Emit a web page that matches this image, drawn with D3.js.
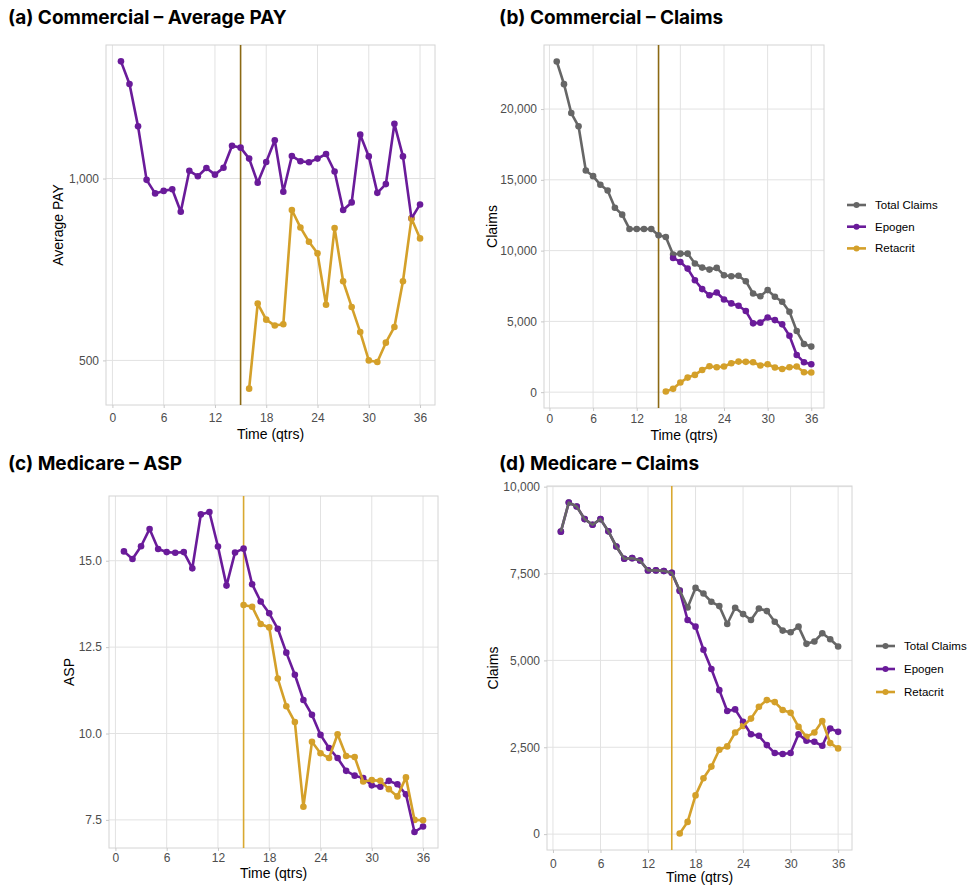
<!DOCTYPE html>
<html>
<head>
<meta charset="utf-8">
<script src="https://cdn.jsdelivr.net/npm/d3@7"></script>
<style>
body { margin: 0; background: #fff; }
text { font-family: "Liberation Sans", Arial, sans-serif; }
.title { font-family: Inter, "Open Sans", sans-serif; font-weight: 700; font-size: 19px; fill: #000; }
.axis text { fill: #4d4d4d; font-size: 12px; }
.axis line { stroke: #c8c8c8; }
.axis path { display: none; }
.axisTitle { font-size: 14px; fill: #000; }
.legend text { font-size: 11.5px; fill: #000; }
</style>
</head>
<body>
<svg id="chart" width="970" height="886"></svg>
<script>
var quarters = [1, 2, 3, 4, 5, 6, 7, 8, 9, 10, 11, 12, 13, 14, 15, 16, 17, 18,
                19, 20, 21, 22, 23, 24, 25, 26, 27, 28, 29, 30, 31, 32, 33, 34, 35, 36];
var xTicks = [0, 6, 12, 18, 24, 30, 36];
var seriesNames = ["Total Claims", "Epogen", "Retacrit"];
var launchQuarter = 15;

// (a) commercial average pay
var commPayEpogen = [1563, 1434, 1220, 995, 945, 954, 960, 881, 1030, 1009, 1041, 1015,
                     1042, 1133, 1125, 1079, 984, 1065, 1157, 951, 1090, 1068, 1064, 1079,
                     1098, 1027, 887, 913, 1182, 1088, 947, 979, 1232, 1088, 859, 906];
var commPayRetacrit = [null, null, null, null, null, null, null, null, null, null, null, null,
                       null, null, null, 449, 621, 584, 571, 574, 887, 830, 786, 752,
                       618, 828, 676, 613, 557, 500, 497, 535, 568, 676, 859, 796];
var commPayTicks = [500, 1000];

// (b) commercial claims
var commClaimsTotal = [23360, 21760, 19720, 18780, 15660, 15260, 14650, 14250, 13030, 12540, 11530, 11530,
                       11530, 11530, 11080, 10960, 9720, 9790, 9790, 9090, 8800, 8660, 8780, 8260,
                       8190, 8220, 7840, 6970, 6780, 7210, 6740, 6390, 5680, 4320, 3400, 3220];
var commClaimsEpogen = [null, null, null, null, null, null, null, null, null, null, null, null,
                        null, null, null, null, 9480, 9200, 8730, 7910, 7280, 6850, 7040, 6550,
                        6270, 6100, 5730, 4860, 4910, 5280, 5090, 4790, 3990, 2630, 2110, 1970];
var commClaimsRetacrit = [null, null, null, null, null, null, null, null, null, null, null, null,
                          null, null, null, 47, 235, 680, 1030, 1220, 1570, 1830, 1760, 1810,
                          2040, 2160, 2140, 2110, 1880, 1970, 1740, 1640, 1760, 1810, 1410, 1390];
var commClaimsTicks = [0, 5000, 10000, 15000, 20000];

// (c) medicare ASP
var medAspEpogen = [15.27, 15.05, 15.42, 15.92, 15.34, 15.25, 15.23, 15.25, 14.78, 16.34, 16.41, 15.41,
                    14.28, 15.24, 15.35, 14.32, 13.82, 13.48, 13.03, 12.34, 11.70, 10.97, 10.54, 9.96,
                    9.58, 9.29, 8.92, 8.78, 8.71, 8.50, 8.46, 8.63, 8.53, 8.24, 7.15, 7.31];
var medAspRetacrit = [null, null, null, null, null, null, null, null, null, null, null, null,
                      null, null, 13.72, 13.67, 13.17, 13.07, 11.59, 10.79, 10.33, 7.88, 9.76, 9.43,
                      9.29, 9.98, 9.35, 9.32, 8.61, 8.65, 8.63, 8.39, 8.18, 8.73, 7.50, 7.49];
var medAspTicks = [7.5, 10, 12.5, 15];

// (d) medicare claims
var medClaimsTotal = [8705, 9543, 9429, 9067, 8905, 9067, 8714, 8276, 7924, 7943, 7876, 7590,
                      7590, 7571, 7524, 7019, 6524, 7086, 6924, 6686, 6562, 6048, 6514, 6333,
                      6162, 6495, 6419, 6114, 5857, 5810, 5971, 5476, 5543, 5781, 5610, 5400];
var medClaimsEpogen = [8705, 9543, 9429, 9067, 8905, 9067, 8714, 8276, 7924, 7943, 7876, 7590,
                       7590, 7571, 7524, 7000, 6162, 5971, 5305, 4752, 4143, 3543, 3590, 3229,
                       2876, 2829, 2562, 2333, 2305, 2333, 2876, 2686, 2657, 2543, 3038, 2943];
var medClaimsRetacrit = [null, null, null, null, null, null, null, null, null, null, null, null,
                         null, null, null, 19, 352, 1114, 1610, 1943, 2429, 2524, 2924, 3114,
                         3324, 3667, 3857, 3800, 3571, 3495, 3086, 2800, 2924, 3257, 2619, 2467];
var medClaimsTicks = [0, 2500, 5000, 7500, 10000];

var color = d3.scaleOrdinal()
    .domain(seriesNames)
    .range(["#666666", "#6a1b9a", "#d4a02a"]);

var svg = d3.select("#chart");

drawPanel({
    title: "(a) Commercial \u2013 Average PAY", titleX: 8, titleY: 24,
    left: 106, right: 435, top: 45, bottom: 405,
    yTitle: "Average PAY", yTitleX: 58, log: true,
    yTicks: commPayTicks, fmt: d3.format(","), xPad: 5.5, xTitleOff: 34,
    vline: "#8b6914",
    series: [{ name: "Epogen", values: commPayEpogen }, { name: "Retacrit", values: commPayRetacrit }]
});

drawPanel({
    title: "(b) Commercial \u2013 Claims", titleX: 499, titleY: 24,
    left: 544, right: 824, top: 45, bottom: 408,
    yTitle: "Claims", yTitleX: 492,
    yTicks: commClaimsTicks, fmt: d3.format(","), xPad: 3.4, xTitleOff: 32,
    vline: "#8b6914",
    series: [{ name: "Total Claims", values: commClaimsTotal }, { name: "Epogen", values: commClaimsEpogen },
             { name: "Retacrit", values: commClaimsRetacrit }],
    legend: { x: 847, y: 205, step: 21.7 }
});

drawPanel({
    title: "(c) Medicare \u2013 ASP", titleX: 8, titleY: 470,
    left: 109, right: 438, top: 496, bottom: 848,
    yTitle: "ASP", yTitleX: 69,
    yTicks: medAspTicks, fmt: d3.format(".1f"), xPad: 2.8, xTitleOff: 30,
    vline: "#d9a830",
    series: [{ name: "Epogen", values: medAspEpogen }, { name: "Retacrit", values: medAspRetacrit }]
});

drawPanel({
    title: "(d) Medicare \u2013 Claims", titleX: 499, titleY: 470,
    left: 547, right: 852, top: 486, bottom: 850,
    yTitle: "Claims", yTitleX: 492.5,
    yTicks: medClaimsTicks, fmt: d3.format(","), xPad: 6.1, xTitleOff: 32,
    vline: "#d9a830",
    series: [{ name: "Total Claims", values: medClaimsTotal }, { name: "Epogen", values: medClaimsEpogen },
             { name: "Retacrit", values: medClaimsRetacrit }],
    legend: { x: 876, y: 646, step: 23 }
});

function drawPanel(p)
{
    var x = d3.scaleLinear().domain([-0.75, 37.75]).range([p.left, p.right]);

    var all = [];
    p.series.forEach(function(s) {
        s.values.forEach(function(v) { if (v != null) all.push(v); });
    });
    var lo = d3.min(all), hi = d3.max(all), pad, y;
    if (p.log) {
        var a = Math.log10(lo), b = Math.log10(hi);
        pad = (b - a) * 0.05;
        y = d3.scaleLog().domain([Math.pow(10, a - pad), Math.pow(10, b + pad)]);
    } else {
        pad = (hi - lo) * 0.05;
        y = d3.scaleLinear().domain([lo - pad, hi + pad]);
    }
    y.range([p.bottom, p.top]);

    svg.append("text")
       .attr("class", "title")
       .attr("x", p.titleX)
       .attr("y", p.titleY)
       .text(p.title);

    var g = svg.append("g");

    // grid
    g.selectAll(".gx")
     .data(xTicks)
     .enter().append("line")
     .attr("x1", function(d) { return x(d); })
     .attr("x2", function(d) { return x(d); })
     .attr("y1", p.top).attr("y2", p.bottom)
     .attr("stroke", "#e2e2e2").attr("stroke-width", 1);
    g.selectAll(".gy")
     .data(p.yTicks)
     .enter().append("line")
     .attr("x1", p.left).attr("x2", p.right)
     .attr("y1", function(d) { return y(d); })
     .attr("y2", function(d) { return y(d); })
     .attr("stroke", "#e2e2e2").attr("stroke-width", 1);
    g.append("rect")
     .attr("x", p.left).attr("y", p.top)
     .attr("width", p.right - p.left).attr("height", p.bottom - p.top)
     .attr("fill", "none").attr("stroke", "#d4d4d4").attr("stroke-width", 1);

    // axes
    g.append("g")
     .attr("class", "axis")
     .attr("transform", "translate(0," + p.bottom + ")")
     .call(d3.axisBottom(x).tickValues(xTicks).tickSize(3).tickPadding(p.xPad).tickSizeOuter(0));
    g.append("g")
     .attr("class", "axis")
     .attr("transform", "translate(" + p.left + ",0)")
     .call(d3.axisLeft(y).tickValues(p.yTicks).tickFormat(p.fmt).tickSize(3).tickPadding(4).tickSizeOuter(0));

    g.append("text")
     .attr("class", "axisTitle")
     .attr("text-anchor", "middle")
     .attr("x", (p.left + p.right) / 2)
     .attr("y", p.bottom + p.xTitleOff)
     .text("Time (qtrs)");
    g.append("text")
     .attr("class", "axisTitle")
     .attr("text-anchor", "middle")
     .attr("transform", "translate(" + (p.yTitleX + 5) + "," + (p.top + p.bottom) / 2 + ") rotate(-90)")
     .text(p.yTitle);

    // launch line
    g.append("line")
     .attr("x1", x(launchQuarter)).attr("x2", x(launchQuarter))
     .attr("y1", p.top).attr("y2", p.bottom)
     .attr("stroke", p.vline).attr("stroke-width", 1.6);

    // points first, then lines (total on top)
    p.series.forEach(function(s) {
        var pts = s.values.map(function(v, i) { return { q: quarters[i], v: v }; })
                          .filter(function(d) { return d.v != null; });
        g.selectAll(null)
         .data(pts)
         .enter().append("circle")
         .attr("cx", function(d) { return x(d.q); })
         .attr("cy", function(d) { return y(d.v); })
         .attr("r", 3.3)
         .attr("fill", color(s.name));
    });

    var line = d3.line()
        .defined(function(d) { return d != null; })
        .x(function(d, i) { return x(quarters[i]); })
        .y(function(d) { return y(d); });

    var order = p.series.slice().sort(function(a, b) {
        return (a.name == "Total Claims") - (b.name == "Total Claims");
    });
    order.forEach(function(s) {
        g.append("path")
         .datum(s.values)
         .attr("d", line)
         .attr("fill", "none")
         .attr("stroke", color(s.name))
         .attr("stroke-width", 2.6)
         .attr("stroke-linejoin", "round");
    });

    if (p.legend) {
        var lg = svg.append("g").attr("class", "legend");
        var item = lg.selectAll("g")
            .data(seriesNames)
            .enter().append("g")
            .attr("transform", function(d, i) {
                return "translate(" + p.legend.x + "," + (p.legend.y + i * p.legend.step) + ")";
            });
        item.append("line")
            .attr("x1", 0).attr("x2", 19)
            .attr("stroke", function(d) { return color(d); })
            .attr("stroke-width", 2.6);
        item.append("circle")
            .attr("cx", 9.5).attr("r", 3)
            .attr("fill", function(d) { return color(d); });
        item.append("text")
            .attr("x", 28)
            .attr("dy", "0.35em")
            .text(function(d) { return d; });
    }
}
</script>
</body>
</html>
